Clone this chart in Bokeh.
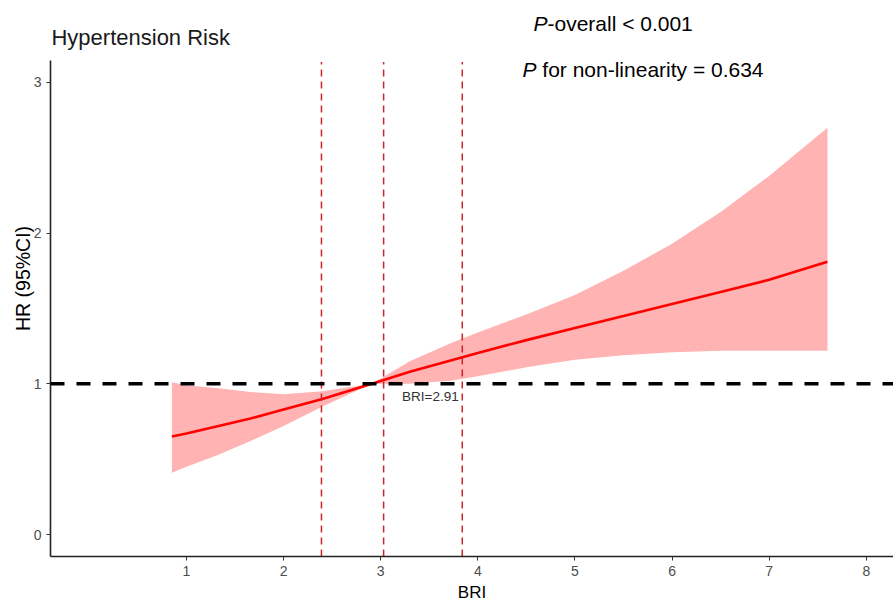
from bokeh.plotting import figure
from bokeh.models import Range1d, Label, Span, FixedTicker, ColumnDataSource
from bokeh.embed import file_html
from bokeh.resources import INLINE

# ---- data ----
bri = [0.85, 1.0, 1.33, 1.66, 2.0, 2.4, 2.91, 3.3, 3.72, 4.0, 4.5, 5.0, 5.5, 6.0, 6.5, 7.0, 7.6]
hr = [0.65, 0.67, 0.72, 0.77, 0.83, 0.90, 1.00, 1.08, 1.155, 1.205, 1.29, 1.37, 1.45, 1.53, 1.61, 1.69, 1.81]
lower = [0.41, 0.45, 0.53, 0.62, 0.72, 0.85, 1.00, 1.00, 1.02, 1.05, 1.11, 1.16, 1.19, 1.21, 1.22, 1.22, 1.22]
upper = [1.01, 0.99, 0.97, 0.945, 0.93, 0.95, 1.00, 1.15, 1.27, 1.34, 1.46, 1.59, 1.75, 1.93, 2.14, 2.38, 2.70]
vlines = [2.39, 3.03, 3.84]
ref_value = 2.91
x_ticks = [1, 2, 3, 4, 5, 6, 7, 8]
y_ticks = [0, 1, 2, 3]

Y_LO, Y_AXIS_TOP, Y_TOP = -0.146, 3.146, 3.544
X_LO, X_HI = -0.40, 8.28

src = ColumnDataSource(dict(x=bri, hr=hr, lo=lower, up=upper))

p = figure(frame_width=843, frame_height=556, output_backend="svg", toolbar_location=None,
           title=None,
           x_range=Range1d(X_LO, X_HI), y_range=Range1d(Y_LO, Y_TOP),
           min_border_left=50, min_border_top=0, min_border_bottom=46, min_border_right=0)

p.varea(x="x", y1="lo", y2="up", source=src, fill_color="#FFB3B3", fill_alpha=1.0)
p.line(x="x", y="hr", source=src, line_color="#FF0000", line_width=2.6, line_join="round")

p.add_layout(Span(location=1, dimension="width", line_color="black", line_width=3.5,
                  line_dash="14 12"))
p.segment(x0=vlines, y0=[Y_LO] * len(vlines), x1=vlines, y1=[Y_AXIS_TOP - 0.01] * len(vlines),
          line_color="#CC2229", line_width=1.5, line_dash="7 5")

p.add_layout(Label(x=ref_value + 0.31, y=0.918, text="BRI=%.2f" % ref_value, text_font="Liberation Sans",
                   text_font_size="13.5px", text_color="#333333", text_baseline="alphabetic"))

# title & p-values
p.add_layout(Label(x=X_LO + 0.01, y=3.297, text="Hypertension Risk", text_font="Liberation Sans",
                   text_font_size="22px", text_color="#1a1a1a", text_baseline="alphabetic"))
p.add_layout(Label(x=4.573, y=3.392, text="P", text_font="Liberation Sans", text_font_style="italic",
                   text_font_size="21px", text_color="black", text_baseline="alphabetic"))
p.add_layout(Label(x=4.717, y=3.392, text="-overall < 0.001", text_font="Liberation Sans",
                   text_font_size="21px", text_color="black", text_baseline="alphabetic"))
p.add_layout(Label(x=4.460, y=3.085, text="P", text_font="Liberation Sans", text_font_style="italic",
                   text_font_size="21px", text_color="black", text_baseline="alphabetic"))
p.add_layout(Label(x=4.664, y=3.085, text="for non-linearity = 0.634", text_font="Liberation Sans",
                   text_font_size="21px", text_color="black", text_baseline="alphabetic"))

p.xaxis.axis_label = "BRI"
p.yaxis.axis_label = "HR (95%CI)"
p.xaxis.ticker = FixedTicker(ticks=x_ticks)
p.yaxis.ticker = FixedTicker(ticks=y_ticks)
p.yaxis.bounds = (Y_LO, Y_AXIS_TOP)
for ax in (p.xaxis, p.yaxis):
    ax.axis_label_text_font = "Liberation Sans"
    ax.axis_label_text_font_style = "normal"
    ax.axis_label_text_color = "black"
    ax.major_label_text_font = "Liberation Sans"
    ax.major_label_text_font_size = "14px"
    ax.major_label_text_color = "#4D4D4D"
    ax.axis_line_color = "#222222"
    ax.axis_line_width = 1.6
    ax.major_tick_line_color = "#333333"
    ax.major_tick_out = 4
    ax.major_tick_in = 0
    ax.minor_tick_line_color = None
p.xaxis.axis_label_text_font_size = "17px"
p.yaxis.axis_label_text_font_size = "19.5px"
p.xaxis.axis_label_standoff = 4
p.yaxis.axis_label_standoff = -3
p.xaxis.major_label_standoff = 5
p.yaxis.major_label_standoff = 5

p.xgrid.grid_line_color = None
p.ygrid.grid_line_color = None
p.outline_line_color = None
p.background_fill_color = "white"

open("out.html", "w").write(file_html(p, INLINE))
